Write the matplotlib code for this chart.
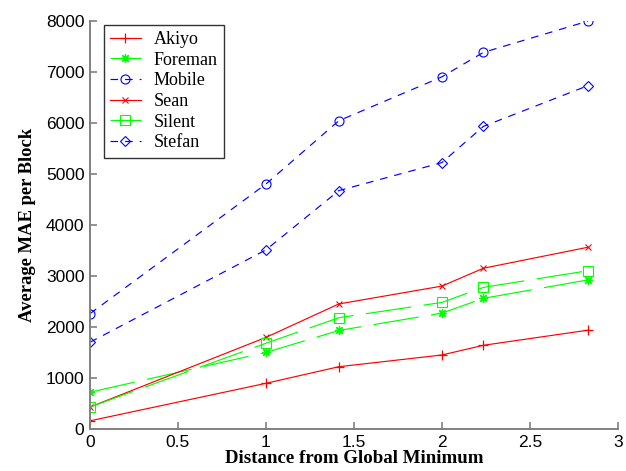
import matplotlib
matplotlib.use("Agg")
import matplotlib.pyplot as plt

distance = [0, 1, 1.414, 2, 2.236, 2.828]
akiyo   = [160, 895, 1220, 1450, 1640, 1935]
foreman = [720, 1500, 1930, 2270, 2560, 2920]
mobile  = [2260, 4800, 6040, 6900, 7380, 7990]
sean    = [430, 1795, 2450, 2800, 3150, 3560]
silent  = [430, 1680, 2180, 2480, 2775, 3100]
stefan  = [1700, 3510, 4670, 5220, 5930, 6725]

xticks = [0, 0.5, 1, 1.5, 2, 2.5, 3]
yticks = [0, 1000, 2000, 3000, 4000, 5000, 6000, 7000, 8000]

plt.rcParams['lines.scale_dashes'] = False

fig = plt.figure(figsize=(6.26, 4.71), dpi=100)
ax = fig.add_axes([0.1438, 0.0892, 0.8432, 0.8668])

red, green, blue = (1, 0, 0), (0, 1, 0), (0, 0, 1)
lw = 0.85
gdash = (0, (33, 9))
bdash = (0, (5.5, 5))

ax.plot(distance, akiyo, color=red, lw=lw, ls='-', marker='+', ms=7, mew=0.9, label='Akiyo')
ax.plot(distance, foreman, color=green, lw=lw, ls=gdash, marker=(8, 2, 0), ms=6.5, mew=0.9, label='Foreman')
ax.plot(distance, mobile, color=blue, lw=lw, ls=bdash, marker='o', ms=6.5, mew=0.8, mfc='none', label='Mobile')
ax.plot(distance, sean, color=red, lw=lw, ls='-', marker='x', ms=4, mew=0.8, label='Sean')
ax.plot(distance, silent, color=green, lw=lw, ls=gdash, marker='s', ms=6.5, mew=0.8, mfc='none', label='Silent')
ax.plot(distance, stefan, color=blue, lw=lw, ls=bdash, marker='D', ms=5.5, mew=0.8, mfc='none', label='Stefan')

ax.set_xlim(0, 3)
ax.set_ylim(0, 8000)
ax.set_xticks(xticks)
ax.set_xticklabels([f"{t:g}" for t in xticks])
ax.set_yticks(yticks)
ax.set_yticklabels([str(t) for t in yticks])

for s in ['top', 'right']:
    ax.spines[s].set_visible(False)
for s in ['left', 'bottom']:
    ax.spines[s].set_color('#808080')
    ax.spines[s].set_linewidth(1.4)
ax.tick_params(direction='in', length=5, width=1.2, color='#808080',
               labelsize=12.5, labelcolor='black', pad=4)
for lab in ax.get_xticklabels() + ax.get_yticklabels():
    lab.set_family('Liberation Sans')

ax.set_xlabel('Distance from Global Minimum', family='Liberation Serif',
              fontweight='bold', fontsize=13.6, labelpad=0)
ax.set_ylabel('Average MAE per Block', family='Liberation Serif',
              fontweight='bold', fontsize=13.4, labelpad=7)

leg = ax.legend(loc='upper left', bbox_to_anchor=(0.026, 0.99),
                prop={'family': 'Liberation Serif', 'size': 13},
                frameon=True, fancybox=False, edgecolor='black',
                handlelength=1.7, labelspacing=0.2, borderpad=0.35,
                handletextpad=0.7, borderaxespad=0)
leg.get_frame().set_linewidth(1.0)

fig.savefig('out.png', dpi=100)
